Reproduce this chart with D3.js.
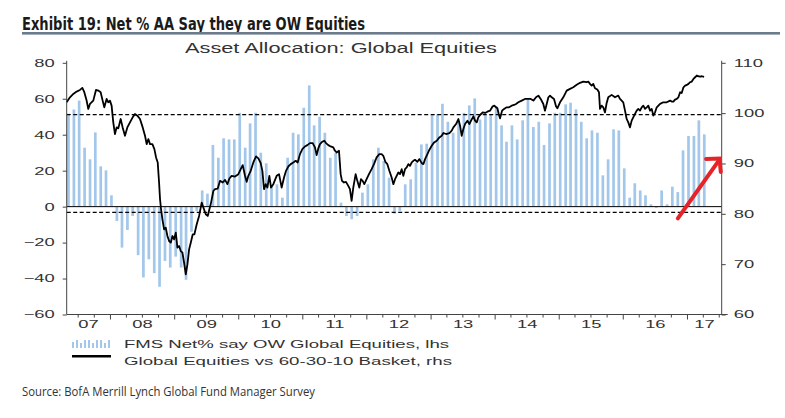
<!DOCTYPE html>
<html><head><meta charset="utf-8">
<script src="https://cdn.jsdelivr.net/npm/d3@7"></script>
<style>body{margin:0;background:#fff}svg{display:block}</style>
</head><body><svg id="c" width="785" height="418"></svg>
<script>
// ---------- data ----------
const leftTicks = [80, 60, 40, 20, 0, -20, -40, -60];
const rightTicks = [110, 100, 90, 80, 70, 60];
const yearLabels = ["07","08","09","10","11","12","13","14","15","16","17"];
const barStartMonth = "2007-05";
// FMS net % overweight global equities (lhs), monthly
const fmsNet = [
 51.7, 54, 59, 32.8, 26.3, 41.3, 22.4, 20.2, 6.3, -8, -22.8, -13, -5.2, -27, -39.4, -29.3,
 -37, -44.6, -30.2, -33.9, -27.8, -33.9, -40.7, -14, -2.4, 9, 7.2, 34.3, 27.2, 38, 37.4,
 37.4, 52.2, 32.8, 46.3, 52.2, 30, 24.1, 11.5, 12.4, 5, 27.2, 41.1, 40.2, 55, 67.4, 45.2,
 50, 41.1, 27.2, 30, 2.2, -5.2, -7, -5.2, 7.8, 12.4, 26.3, 32.8, 25.4, 16.1, -3.9, -2.4,
 12.4, 15.2, 24.4, 34.6,
 35, 51.3, 51.3, 57.2, 47.2, 41.1, 47.6, 52.2, 56.3, 60.2, 48.5, 51.3, 51.3, 55.9, 45.2,
 36.1, 45.2, 37.4, 48, 60.2, 44.3, 47.2, 34.3, 46.3, 52.2, 52.2, 56.9, 57.8, 54.1, 47.2,
 38, 42.4, 41.1, 17.4, 26.3,
 43, 42.4, 21.3, 5, 13, 9, 6.3, 1.3, -0.7, 9, 1.3, 11.1, 8.1, 31.3, 39.3, 39.3, 48, 40.2
];
// Global equities vs 60-30-10 basket (rhs): [decimal year, value]
const basket = [
 [2007.316,102.15],[2007.368,103.15],[2007.420,103.81],[2007.472,104.28],[2007.524,104.61],[2007.561,105.01],
 [2007.592,104.15],[2007.628,102.49],[2007.654,100.83],[2007.680,101.82],[2007.732,102.49],[2007.774,104.61],
 [2007.810,104.48],[2007.847,104.15],[2007.878,102.49],[2007.904,101.16],[2007.940,102.82],[2007.966,102.15],
 [2007.992,102.49],[2008.018,101.49],[2008.044,98.17],[2008.070,95.85],[2008.096,97.17],[2008.122,96.97],
 [2008.159,98.83],[2008.190,97.17],[2008.226,95.51],[2008.263,97.17],[2008.304,98.17],[2008.346,99.17],
 [2008.382,99.83],[2008.419,99.50],[2008.460,98.83],[2008.502,97.17],[2008.538,95.51],[2008.564,93.85],
 [2008.590,94.85],[2008.616,93.85],[2008.653,93.85],[2008.684,92.86],[2008.710,91.20],[2008.736,90.20],
 [2008.757,86.22],[2008.772,82.90],[2008.788,80.91],[2008.809,78.91],[2008.835,76.92],[2008.861,77.25],
 [2008.887,75.59],[2008.913,74.60],[2008.939,74.27],[2008.965,75.59],[2008.991,74.93],[2009.017,76.26],
 [2009.043,73.27],[2009.069,73.60],[2009.095,72.61],[2009.121,72.27],[2009.147,70.28],[2009.173,67.96],
 [2009.199,69.95],[2009.225,72.94],[2009.251,74.27],[2009.282,75.93],[2009.308,75.93],[2009.344,77.92],
 [2009.381,79.58],[2009.422,82.23],[2009.448,81.24],[2009.485,79.91],[2009.516,79.58],[2009.542,80.91],
 [2009.568,82.23],[2009.604,84.56],[2009.630,84.89],[2009.672,85.02],
 [2009.708,86.55],[2009.750,86.22],[2009.786,86.75],[2009.823,85.89],[2009.854,87.01],[2009.890,87.55],
 [2009.942,87.41],[2009.994,87.88],[2010.031,88.87],[2010.062,89.67],[2010.098,87.55],[2010.124,86.35],
 [2010.150,87.55],[2010.187,88.54],[2010.228,90.20],[2010.270,91.40],[2010.306,91.00],[2010.343,90.07],
 [2010.369,88.54],[2010.395,84.89],[2010.421,85.89],[2010.447,85.22],[2010.478,87.55],[2010.504,85.22],
 [2010.540,85.89],[2010.592,87.55],[2010.629,87.88],[2010.670,85.22],[2010.707,87.21],[2010.738,88.54],
 [2010.774,89.40],[2010.811,89.87],[2010.852,90.20],[2010.889,90.53],[2010.920,90.20],[2010.956,91.86],
 [2010.993,92.86],[2011.034,93.39],[2011.071,93.65],[2011.112,94.05],[2011.154,94.05],[2011.190,93.19],
 [2011.216,91.66],[2011.242,92.99],[2011.268,93.85],[2011.305,94.32],[2011.336,94.52],[2011.362,94.05],
 [2011.398,93.65],[2011.435,93.39],[2011.476,93.19],[2011.502,92.53],[2011.528,92.19],[2011.565,92.53],
 [2011.591,87.88],[2011.612,86.55],[2011.643,86.22],[2011.674,86.35],[2011.710,85.56],[2011.736,84.89],
 [2011.762,82.57],[2011.788,85.22],[2011.825,87.88],[2011.851,86.55],[2011.882,85.22],[2011.908,86.88],
 [2011.934,86.55],[2011.960,85.89],[2011.996,86.88],[2012.033,87.88],[2012.074,88.87],[2012.111,89.87],
 [2012.152,91.20],[2012.194,91.86],[2012.230,91.86],[2012.256,91.53],[2012.288,90.33],[2012.319,89.87],
 [2012.350,88.54],[2012.386,87.21],[2012.413,85.89],[2012.439,86.88],[2012.464,87.55],[2012.490,88.21],
 [2012.516,87.88],[2012.542,88.87],[2012.568,87.55],[2012.594,88.87],[2012.620,89.21],[2012.646,89.87],
 [2012.672,89.54],[2012.698,90.20],[2012.724,90.53],[2012.750,90.73],[2012.787,90.33],[2012.818,90.87],
 [2012.854,90.07],[2012.880,89.87],[2012.906,90.87],[2012.943,91.86],[2012.974,92.73],[2013.010,93.52],
 [2013.047,94.19],[2013.088,94.52],[2013.130,95.18],[2013.166,95.51],[2013.192,96.05],[2013.234,95.85],
 [2013.286,96.05],[2013.322,96.51],[2013.348,97.17],[2013.390,97.84],[2013.426,98.83],[2013.452,97.51],
 [2013.478,95.51],[2013.504,96.84],[2013.530,97.84],[2013.567,98.50],[2013.598,97.84],[2013.624,98.50],
 [2013.660,99.37],[2013.686,98.50],[2013.712,98.17],[2013.738,99.17],[2013.764,99.63],[2013.806,100.16],
 [2013.842,100.03],[2013.879,100.29],[2013.920,100.49],[2013.962,101.36],[2013.988,101.49],[2014.014,101.16],
 [2014.035,100.96],[2014.056,99.83],[2014.076,98.97],[2014.108,100.49],[2014.139,100.83],[2014.180,101.16],
 [2014.217,101.16],[2014.258,101.49],[2014.295,101.62],[2014.326,101.82],[2014.362,102.15],[2014.415,102.49],
 [2014.466,102.82],[2014.518,102.82],[2014.555,102.82],[2014.597,102.49],[2014.638,103.15],[2014.675,103.48],
 [2014.711,102.82],[2014.752,101.82],[2014.778,100.49],[2014.805,101.82],[2014.831,103.15],[2014.857,103.48],
 [2014.883,103.15],[2014.919,102.82],[2014.950,101.36],[2014.971,100.96],
 [2015.013,102.15],[2015.064,103.15],[2015.117,104.48],[2015.169,104.82],[2015.220,105.14],[2015.273,105.62],
 [2015.325,106.02],[2015.376,106.27],[2015.429,106.14],[2015.454,106.27],[2015.480,105.82],[2015.507,105.48],
 [2015.532,105.82],[2015.559,104.94],[2015.595,104.68],[2015.621,104.14],[2015.637,100.84],[2015.663,101.49],
 [2015.688,101.16],[2015.715,100.16],[2015.741,102.03],[2015.766,103.15],[2015.819,103.63],[2015.871,103.15],
 [2015.922,103.49],[2015.949,102.83],[2015.975,102.49],[2016.000,102.15],[2016.027,100.50],[2016.053,98.84],
 [2016.078,98.17],[2016.105,97.17],[2016.131,98.51],[2016.156,99.16],[2016.183,99.84],[2016.209,100.50],
 [2016.234,100.84],[2016.261,100.50],[2016.287,101.16],[2016.312,101.49],[2016.339,100.84],[2016.365,101.16],
 [2016.390,101.49],[2016.417,100.50],[2016.443,100.84],[2016.468,99.50],[2016.495,100.16],[2016.521,101.16],
 [2016.573,101.83],[2016.624,102.15],[2016.677,102.15],[2016.729,102.49],
 [2016.754,102.29],[2016.780,102.29],[2016.806,102.69],[2016.833,102.82],[2016.858,103.15],[2016.885,104.15],
 [2016.910,104.01],[2016.937,105.14],[2016.963,105.47],[2016.989,105.61],[2017.015,105.81],[2017.041,106.14],
 [2017.067,106.27],[2017.093,106.80],[2017.119,107.13],[2017.145,107.47],[2017.171,107.33],[2017.197,107.27],
 [2017.223,107.33],[2017.259,107.20]
];
// dashed reference levels (rhs units)
const refLevels = [99.7, 80.3];
// red annotation arrow in data units [decimal year, rhs value]
const arrowShaft = [[2016.85, 79.1], [2017.48, 90.4]];
const arrowHead = [[2017.29, 90.9], [2017.50, 91.0], [2017.52, 88.3]];

const titleText = "Exhibit 19: Net % AA Say they are OW Equities";
const subtitleText = "Asset Allocation: Global Equities";
const legendBars = "FMS Net% say OW Global Equities, lhs";
const legendLine = "Global Equities vs 60-30-10 Basket, rhs";
const sourceText = "Source: BofA Merrill Lynch Global Fund Manager Survey";

// ---------- layout ----------
const svg = d3.select("#c");
const X0 = 66.7, X1 = 721.7, YT = 62.8, YB = 314.5;
const FONT = "'Liberation Sans', Arial, sans-serif";
const TXT = "#333";

function decToDate(t) {
  const y = Math.floor(t), s = new Date(y, 0, 1), e = new Date(y + 1, 0, 1);
  return new Date(+s + (t - y) * (e - s));
}
const x = d3.scaleTime().domain([decToDate(2007.317), decToDate(2017.534)]).range([X0, X1]);
const yL = d3.scaleLinear().domain([-60, 80]).range([YB, YT]);
const yR = d3.scaleLinear().domain([60, 110]).range([YB, YT]);

function stretch(sel, f) {
  sel.each(function () {
    const w = this.getComputedTextLength();
    this.setAttribute("textLength", w * f);
    this.setAttribute("lengthAdjust", "spacingAndGlyphs");
  });
}
function fit(sel, w) {
  sel.attr("textLength", w).attr("lengthAdjust", "spacingAndGlyphs");
}

svg.append("rect").attr("width", 785).attr("height", 418).attr("fill", "#fff");

// title
svg.append("text").attr("x", 22).attr("y", 30)
  .attr("font-family", "'Liberation Sans Narrow','DejaVu Sans Condensed',sans-serif")
  .attr("font-weight", "bold").attr("font-size", 18.5).attr("fill", "#1a1a1a")
  .text(titleText).call(fit, 343);
svg.append("rect").attr("x", 22).attr("y", 32).attr("width", 758).attr("height", 2.6).attr("fill", "#6b7b8c");

// subtitle
svg.append("text").attr("x", 341).attr("y", 53.3).attr("text-anchor", "middle")
  .attr("font-family", FONT).attr("font-size", 14).attr("fill", TXT)
  .text(subtitleText).call(fit, 312);

// bars
const months = d3.timeMonth.range(d3.timeParse("%Y-%m")(barStartMonth), new Date(2100, 0, 1)).slice(0, fmsNet.length);
const barW = 2.7;
const plot = svg.append("g");
plot.selectAll("rect.bar").data(fmsNet).join("rect").attr("class", "bar")
  .attr("x", (d, i) => x(months[i]) + 1 - barW / 2)
  .attr("width", barW)
  .attr("y", d => Math.min(yL(d), yL(0)))
  .attr("height", d => Math.abs(yL(d) - yL(0)))
  .attr("fill", "#a3c7ea");

// reference lines
plot.selectAll("line.ref").data(refLevels).join("line").attr("class", "ref")
  .attr("x1", X0).attr("x2", X1).attr("y1", d => yR(d)).attr("y2", d => yR(d))
  .attr("stroke", "#000").attr("stroke-width", 1.2).attr("stroke-dasharray", "4,2.5");
plot.append("line").attr("x1", X0).attr("x2", X1).attr("y1", yL(0)).attr("y2", yL(0))
  .attr("stroke", "#000").attr("stroke-width", 1);

// basket line
const line = d3.line().x(d => x(decToDate(d[0]))).y(d => yR(d[1]));
plot.append("path").datum(basket).attr("d", line)
  .attr("fill", "none").attr("stroke", "#000").attr("stroke-width", 1.8).attr("stroke-linejoin", "round");

// axes
const axisColor = "#444";
const gL = svg.append("g").attr("transform", `translate(${X0},0)`)
  .call(d3.axisLeft(yL).tickValues(leftTicks).tickSize(4).tickPadding(8));
const gR = svg.append("g").attr("transform", `translate(${X1},0)`)
  .call(d3.axisRight(yR).tickValues(rightTicks).tickSize(4).tickPadding(8));
[gL, gR].forEach(g => {
  g.select(".domain").attr("stroke", axisColor).attr("d", `M0,${YT - 2}V${YB}`);
  g.selectAll(".tick line").attr("stroke", axisColor);
  g.selectAll(".tick text").attr("font-family", FONT).attr("font-size", 10.5).attr("fill", TXT).call(stretch, 1.75);
});
// bottom axis
const quarters = d3.timeMonth.every(3).range(x.domain()[0], x.domain()[1]);
const gB = svg.append("g").attr("transform", `translate(0,${YB})`);
gB.append("line").attr("x1", X0).attr("x2", X1 + 6).attr("stroke", axisColor);
gB.selectAll("line.q").data(quarters).join("line").attr("class", "q")
  .attr("x1", d => x(d)).attr("x2", d => x(d)).attr("y1", 0)
  .attr("y2", d => d.getMonth() === 0 ? 5 : 3).attr("stroke", axisColor);
gB.selectAll("text").data(yearLabels).join("text")
  .attr("x", d => {
    const yr = 2000 + (+d);
    const a = Math.max(x(new Date(yr, 0, 1)), X0), b = Math.min(x(new Date(yr + 1, 0, 1)), X1);
    return (a + b) / 2;
  })
  .attr("y", 13).attr("text-anchor", "middle")
  .attr("font-family", FONT).attr("font-size", 10.5).attr("fill", TXT)
  .text(d => d).call(stretch, 1.75);

// legend
const lg = svg.append("g");
const iconH = [6, 8, 5, 8, 8, 5, 8, 8, 5, 8];
lg.selectAll("rect").data(iconH).join("rect")
  .attr("x", (d, i) => 72 + i * 4).attr("width", 2).attr("y", d => 348 - d).attr("height", d => d)
  .attr("fill", "#a3c7ea");
lg.append("line").attr("x1", 72).attr("x2", 111).attr("y1", 356.3).attr("y2", 356.3)
  .attr("stroke", "#000").attr("stroke-width", 2.5);
lg.append("text").attr("x", 124).attr("y", 347.8).attr("font-family", FONT).attr("font-size", 11.5)
  .attr("fill", TXT).text(legendBars).call(fit, 325);
lg.append("text").attr("x", 124).attr("y", 364.8).attr("font-family", FONT).attr("font-size", 11.5)
  .attr("fill", TXT).text(legendLine).call(fit, 328);

// source
svg.append("text").attr("x", 22).attr("y", 395.5)
  .attr("font-family", "'Open Sans','Liberation Sans Narrow',sans-serif").attr("font-size", 13)
  .attr("fill", TXT).text(sourceText).call(fit, 293);

// red arrow
const ap = d3.line().x(d => x(decToDate(d[0]))).y(d => yR(d[1]));
svg.append("path").datum(arrowShaft).attr("d", ap).attr("stroke", "#e52429").attr("stroke-width", 4)
  .attr("fill", "none").attr("stroke-linecap", "round");
svg.append("path").datum(arrowHead).attr("d", ap).attr("stroke", "#e52429").attr("stroke-width", 4)
  .attr("fill", "none").attr("stroke-linecap", "round").attr("stroke-linejoin", "miter");
</script></body></html>
